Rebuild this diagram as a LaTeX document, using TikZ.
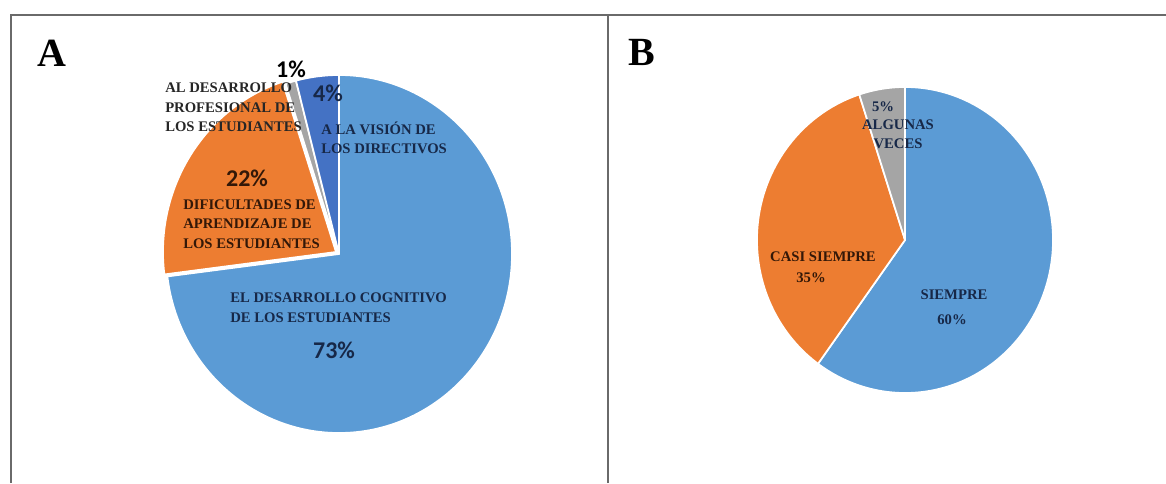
\documentclass[tikz,border=0pt]{standalone}
\usepackage{fontspec}
\setmainfont{Liberation Serif}
\newfontfamily\pctfont{Carlito}
\definecolor{lblue}{HTML}{5B9BD5}
\definecolor{dblue}{HTML}{4472C4}
\definecolor{orng}{HTML}{ED7D31}
\definecolor{gry}{HTML}{A5A5A5}
\definecolor{navy}{HTML}{172848}
\definecolor{brwn}{HTML}{331808}
\definecolor{dgray}{HTML}{262626}
\definecolor{framec}{HTML}{6A6A6A}
\newcommand\pieslice[8]{%
  \filldraw[wedge, fill=#7, shift={#8}] (#1,#2) -- ++(#5:#3 and #4)
    arc[start angle=#5, end angle=#6, x radius=#3, y radius=#4] -- cycle;}
\tikzset{
  wedge/.style={draw=white, line width=1.3pt, line join=round},
  framestyle/.style={draw=framec, line width=1.4pt},
  lab/.style={inner sep=0pt, font=\bfseries\fontsize{11}{14.6}\selectfont, align=left},
  labc/.style={inner sep=0pt, font=\bfseries\fontsize{11}{14.3}\selectfont, align=center},
  pct/.style={inner sep=0pt, font=\pctfont\bfseries\fontsize{18}{18}\selectfont},
  panel/.style={inner sep=0pt, font=\bfseries\fontsize{30}{30}\selectfont}
}
\begin{document}
\begin{tikzpicture}[x=0.75pt,y=0.75pt]
\useasboundingbox (0,0) rectangle (1166,483);
% frame
\draw[framestyle] (11,0) -- (11,468) -- (1166,468);
\draw[framestyle] (608,0) -- (608,468);
% panel letters
\node[panel] (pA) at (52,430) {A};
\node[panel] (pB) at (642,431) {B};
% pie A
\pieslice{339}{229}{173}{179}{90}{-172.8}{lblue}{(0,0)}
\pieslice{339}{229}{173}{179}{187.2}{108}{orng}{(-3,2)}
\pieslice{339}{229}{173}{179}{108}{104.4}{gry}{(0,0)}
\pieslice{339}{229}{173}{179}{104.4}{90}{dblue}{(0,0)}
% labels A
\node[pct, text=black] (a1p) at (291,414) {1\%};
\node[lab, text=dgray, anchor=west] (a1t) at (165,375.5) {AL DESARROLLO\\PROFESIONAL DE\\LOS ESTUDIANTES};
\node[pct, text=navy] (a4p) at (328,390) {4\%};
\node[lab, text=navy, anchor=west] (a4t) at (321,345) {A LA VISIÓN DE\\LOS DIRECTIVOS};
\node[pct, text=brwn] (a22p) at (247,305) {22\%};
\node[lab, text=brwn, anchor=west] (a22t) at (183,259) {DIFICULTADES DE\\APRENDIZAJE DE\\LOS ESTUDIANTES};
\node[lab, text=navy, anchor=west] (a73t) at (230,175.5) {EL DESARROLLO COGNITIVO\\DE LOS ESTUDIANTES};
\node[pct, text=navy] (a73p) at (334,133) {73\%};
% pie B
\pieslice{905}{243}{148}{153}{90}{-126}{lblue}{(0,0)}
\pieslice{905}{243}{148}{153}{234}{108}{orng}{(0,0)}
\pieslice{905}{243}{148}{153}{108}{90}{gry}{(0,0)}
% labels B
\node[labc, text=navy] (b5p) at (883,376) {5\%};
\node[labc, text=navy] (b5t) at (898,348.5) {ALGUNAS\\VECES};
\node[labc, text=brwn] (b35t) at (823,226) {CASI SIEMPRE};
\node[labc, text=brwn] (b35p) at (811,205) {35\%};
\node[labc, text=navy] (b60t) at (954,188) {SIEMPRE};
\node[labc, text=navy] (b60p) at (952,163) {60\%};
\end{tikzpicture}
\end{document}
